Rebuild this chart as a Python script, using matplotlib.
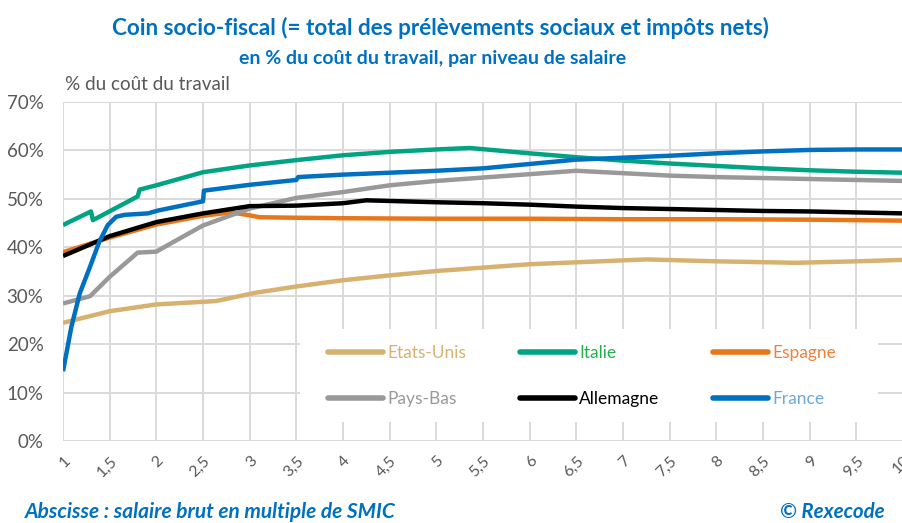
import matplotlib
matplotlib.use("Agg")
import matplotlib.pyplot as plt
from matplotlib.patches import Rectangle
from matplotlib.ticker import FixedLocator

# ---- data (x = salaire brut en multiple de SMIC, y = % du coût du travail)
us_x = [1, 1.5, 2, 2.64, 3.06, 3.5, 4, 4.5, 5, 5.5, 6, 6.5, 7.25, 8, 8.85, 9.5, 10]
us_y = [24.4, 26.8, 28.2, 28.9, 30.6, 31.9, 33.2, 34.2, 35.1, 35.8, 36.5, 36.9, 37.5, 37.1, 36.8, 37.1, 37.4]

it_x = [1, 1.3, 1.32, 1.8, 1.82, 2, 2.5, 3, 3.5, 4, 4.5, 5, 5.36, 6, 6.5, 7, 7.5, 8, 8.5, 9, 9.5, 10]
it_y = [44.6, 47.4, 45.6, 50.5, 51.9, 52.8, 55.5, 56.9, 58.0, 59.0, 59.7, 60.2, 60.5, 59.4, 58.6, 57.9, 57.3, 56.8, 56.3, 55.9, 55.6, 55.4]

es_x = [1, 1.5, 2, 2.5, 2.8, 2.97, 3.11, 3.5, 4, 5, 6, 7, 8, 9, 10]
es_y = [39.0, 42.0, 44.7, 46.5, 47.2, 46.7, 46.2, 46.1, 46.0, 45.9, 45.9, 45.8, 45.8, 45.7, 45.5]

nl_x = [1, 1.29, 1.5, 1.8, 2.0, 2.22, 2.5, 3, 3.5, 4, 4.5, 5, 5.5, 6, 6.5, 7, 7.5, 8, 8.5, 9, 9.5, 10]
nl_y = [28.4, 29.9, 33.9, 38.9, 39.1, 41.5, 44.5, 48.0, 50.2, 51.4, 52.8, 53.7, 54.4, 55.1, 55.8, 55.3, 54.8, 54.5, 54.3, 54.1, 53.9, 53.7]

de_x = [1, 1.5, 2, 2.5, 3, 3.5, 4, 4.25, 5, 5.5, 6, 6.5, 7, 7.5, 8, 8.5, 9, 9.5, 10]
de_y = [38.2, 42.3, 45.2, 47.0, 48.5, 48.6, 49.1, 49.7, 49.3, 49.1, 48.8, 48.4, 48.1, 47.9, 47.7, 47.5, 47.4, 47.2, 47.0]

fr_x = [1, 1.09, 1.18, 1.29, 1.39, 1.48, 1.57, 1.66, 1.91, 2.02, 2.5, 2.51, 3, 3.5, 3.52, 4, 4.5, 5, 5.5, 6, 6.5, 7, 7.5, 8, 8.5, 9, 9.5, 10]
fr_y = [14.4, 23.6, 30.5, 36.0, 41.2, 44.6, 46.3, 46.7, 47.0, 47.6, 49.5, 51.7, 52.9, 53.9, 54.5, 55.0, 55.4, 55.8, 56.3, 57.2, 58.1, 58.5, 58.9, 59.4, 59.8, 60.1, 60.2, 60.2]

series_names = ["Etats-Unis", "Italie", "Espagne", "Pays-Bas", "Allemagne", "France"]

x_ticks = [1 + 0.5 * i for i in range(19)]
x_tick_labels = ["1", "1,5", "2", "2,5", "3", "3,5", "4", "4,5", "5", "5,5",
                 "6", "6,5", "7", "7,5", "8", "8,5", "9", "9,5", "10"]
y_ticks = [0, 10, 20, 30, 40, 50, 60, 70]
y_tick_labels = ["0%", "10%", "20%", "30%", "40%", "50%", "60%", "70%"]

line_colors = ["#D6B170", "#00A483", "#E8761A", "#999999", "#000000", "#0070C0"]
text_colors = ["#D6B170", "#22B04C", "#F0803C", "#999999", "#000000", "#6FA8DC"]

plt.rcParams['font.family'] = ['Lato', 'DejaVu Sans']

fig = plt.figure(figsize=(9.03, 5.23), dpi=100)
ax = fig.add_axes([63 / 903, 1 - 441 / 523, 1 - 63 / 903, (441 - 102) / 523])

data = [(us_x, us_y), (it_x, it_y), (es_x, es_y), (nl_x, nl_y), (de_x, de_y), (fr_x, fr_y)]
handles = []
zorders = [3, 3, 3, 3, 4, 5]
for i in range(6):
    xs, ys = data[i]
    h, = ax.plot(xs, ys, color=line_colors[i], lw=3.2, zorder=zorders[i],
                 solid_capstyle='butt', solid_joinstyle='round', label=series_names[i])
    handles.append(h)

ax.set_xlim(1, 10)
ax.set_ylim(0, 70)
ax.set_axisbelow(True)
ax.xaxis.set_major_locator(FixedLocator(x_ticks))
ax.yaxis.set_major_locator(FixedLocator(y_ticks))
ax.set_xticklabels(x_tick_labels, rotation=45, ha='right', va='top', rotation_mode='anchor')
ax.set_yticklabels(y_tick_labels)
ax.grid(True, color='#D9D9D9', lw=1.4)
for s in ax.spines.values():
    s.set_visible(False)
ax.tick_params(axis='both', length=0, colors='#595959')
ax.tick_params(axis='x', labelsize=11.5, pad=9)
ax.tick_params(axis='y', labelsize=13.5, pad=14)

# white box behind legend
ax.add_patch(Rectangle((0.282, 0.056), 0.688, 0.274, transform=ax.transAxes,
                       facecolor='white', edgecolor='none', zorder=1.5))

# legend rows: (Etats-Unis, Italie, Espagne) / (Pays-Bas, Allemagne, France)
reord = [0, 3, 1, 4, 2, 5]
leg = ax.legend(handles=[handles[i] for i in reord],
                labels=[series_names[i] for i in reord], ncol=3, loc='center',
                bbox_to_anchor=(0.618, 0.191), frameon=False, fontsize=12.5,
                handlelength=3.16, handletextpad=0.25, columnspacing=3.1, labelspacing=1.72)
for t, i in zip(leg.get_texts(), reord):
    t.set_color(text_colors[i])
for lh in leg.get_lines():
    lh.set_linewidth(4)
    lh.set_solid_capstyle('round')
leg.set_zorder(6)

blue = '#0070C0'
fig.text(440 / 903, 1 - 28 / 523, "Coin socio-fiscal (= total des prélèvements sociaux et impôts nets)",
         ha='center', va='center', fontsize=16.2, fontweight='bold', color=blue)
fig.text(433 / 903, 1 - 58.5 / 523, "en % du coût du travail, par niveau de salaire",
         ha='center', va='center', fontsize=14, fontweight='bold', color=blue)
fig.text(65 / 903, 1 - 85 / 523, "% du coût du travail", ha='left', va='center',
         fontsize=13.6, color='#595959')
fig.text(25 / 903, 1 - 512 / 523, "Abscisse : salaire brut en multiple de SMIC", ha='left',
         va='center', fontsize=15, fontweight='bold', style='italic', color=blue)
fig.text(885 / 903, 1 - 512 / 523, "© Rexecode", ha='right', va='center',
         fontsize=14.8, fontweight='bold', style='italic', color=blue)

fig.savefig("out.png", dpi=100)
